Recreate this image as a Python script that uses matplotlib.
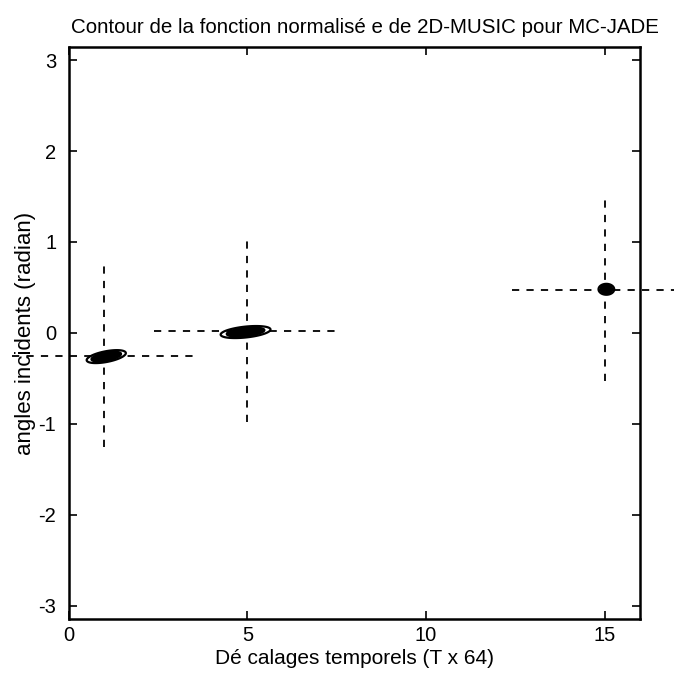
import matplotlib
matplotlib.use("Agg")
import matplotlib.pyplot as plt
import numpy as np

plt.rcParams["font.family"] = ["Liberation Sans", "DejaVu Sans"]
plt.rcParams["axes.unicode_minus"] = False

# estimated source positions (delay, angle) and cross extents
src_delay = [1.0, 5.0, 15.0]
cross_dx = [2.6, 2.6, 2.6]
cross_y_lo = [-1.25, -0.98, -0.53]
cross_y_hi = [0.78, 1.07, 1.50]
cross_h_angle = [-0.25, 0.02, 0.47]

# contour blob parameters (centre, half widths, tilt)
blob_x = [1.05, 4.95, 15.05]
blob_y = [-0.26, 0.01, 0.48]
blob_wx = [0.55, 0.70, 0.22]
blob_wy = [0.06, 0.06, 0.06]
blob_tilt = [0.07, 0.04, 0.0]
levels = [0.2, 0.4, 0.6, 0.8]

xticks = [0, 5, 10, 15]
yticks = [-3, -2, -1, 0, 1, 2, 3]

fig = plt.figure(figsize=(6.74, 6.74), dpi=100)
ax = fig.add_axes([0.102, 0.082, 0.848, 0.848])

gx = np.linspace(0, 16, 1600)
gy = np.linspace(-np.pi, np.pi, 1600)
X, Y = np.meshgrid(gx, gy)
Z = np.zeros_like(X)
for cx, cy, wx, wy, t in zip(blob_x, blob_y, blob_wx, blob_wy, blob_tilt):
    sx, sy = wx / 1.8, wy / 1.8
    dy = Y - cy - t * (X - cx)
    Z = np.maximum(Z, np.exp(-0.5 * (((X - cx) / sx) ** 2 + (dy / sy) ** 2)))
ax.contourf(X, Y, Z, levels=[0.45, 0.75, 1.1], colors=["black", "black"])
ax.contour(X, Y, Z, levels=levels, colors="black", linewidths=1.6)

for i in range(len(src_delay)):
    x0 = src_delay[i]
    ax.plot([x0, x0], [cross_y_lo[i], cross_y_hi[i]], color="black",
            linestyle=(0, (4, 4)), linewidth=1.3, clip_on=False)
    ax.plot([x0 - cross_dx[i], x0 + cross_dx[i]], [cross_h_angle[i]] * 2,
            color="black", linestyle=(0, (4, 4)), linewidth=1.3, clip_on=False)

ax.set_xlim(0, 16)
ax.set_ylim(-np.pi, np.pi)
ax.set_xticks(xticks)
ax.set_yticks(yticks)
ax.tick_params(direction="in", top=True, right=True, length=6, width=1.2,
               labelsize=14.5)
ax.tick_params(axis="x", pad=5)
ax.tick_params(axis="y", pad=9)
for s in ax.spines.values():
    s.set_linewidth(1.8)

ax.set_title("Contour de la fonction normalisé e de 2D-MUSIC pour MC-JADE",
             fontsize=14.8, pad=10, x=0.518)
ax.set_xlabel("Dé calages temporels (T x 64)", fontsize=15, labelpad=3)
ax.set_ylabel("angles incidents (radian)", fontsize=16, labelpad=2)

fig.savefig("out.png", dpi=100)
